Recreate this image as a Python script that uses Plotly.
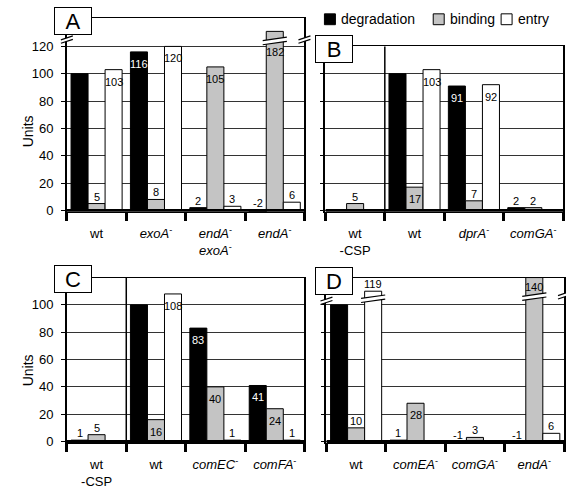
import plotly.graph_objects as go

# ---------------- data ----------------
SERIES = ["degradation", "binding", "entry"]

A_CATS = ["wt", "<i>exoA</i><sup>-</sup>", "<i>endA</i><sup>-</sup><br><i>exoA</i><sup>-</sup>", "<i>endA</i><sup>-</sup>"]
A_DEG = [100, 116, 2, -2]
A_BIND = [5, 8, 105, 182]
A_ENTRY = [103, 120, 3, 6]

B_CATS = ["wt<br>-CSP", "wt", "<i>dprA</i><sup>-</sup>", "<i>comGA</i><sup>-</sup>"]
B_DEG = [None, 100, 91, 2]
B_BIND = [5, 17, 7, 2]
B_ENTRY = [None, 103, 92, None]

C_CATS = ["wt<br>-CSP", "wt", "<i>comEC</i><sup>-</sup>", "<i>comFA</i><sup>-</sup>"]
C_DEG = [1, 100, 83, 41]
C_BIND = [5, 16, 40, 24]
C_ENTRY = [None, 108, 1, 1]

D_CATS = ["wt", "<i>comEA</i><sup>-</sup>", "<i>comGA</i><sup>-</sup>", "<i>endA</i><sup>-</sup>"]
D_DEG = [100, 1, -1, -1]
D_BIND = [10, 28, 3, 140]
D_ENTRY = [119, None, None, 6]

Y_TICKS_A = [0, 20, 40, 60, 80, 100, 120]
Y_TICKS = [0, 20, 40, 60, 80, 100]

# ---------------- style / geometry ----------------
W, H = 566, 489
COLORS = ["#000000", "#c4c4c4", "#ffffff"]
BARGAP = 0.14
BW = (1 - BARGAP) / 3
PPU = 166 / 120.0  # pixels per unit
NUM_FONT = "Liberation Sans Narrow, Arial Narrow, Liberation Sans, Arial"
TXT_FONT = "Liberation Sans, Arial"

def px(x):
    return x / W

def py(y):
    return 1 - y / H

panels = [
    dict(key="A", cats=A_CATS, vals=[A_DEG, A_BIND, A_ENTRY], x0=67, x1=305, zero=213, rmax=141,
         ticks=Y_TICKS_A, labels=True, sep=False),
    dict(key="B", cats=B_CATS, vals=[B_DEG, B_BIND, B_ENTRY], x0=326, x1=564, zero=213, rmax=120,
         ticks=Y_TICKS, labels=False, sep=True),
    dict(key="C", cats=C_CATS, vals=[C_DEG, C_BIND, C_ENTRY], x0=67, x1=305, zero=447, rmax=120,
         ticks=Y_TICKS, labels=True, sep=True),
    dict(key="D", cats=D_CATS, vals=[D_DEG, D_BIND, D_ENTRY], x0=327, x1=565, zero=447, rmax=120,
         ticks=Y_TICKS, labels=False, sep=False),
]
RMIN = -1

# broken bars: (panel, series index, category index) -> drawn height, break level, label level
BROKEN = {
    ("A", 1, 3): dict(show=131, brk=124, lab=116),
    ("D", 2, 0): dict(show=110, brk=104.5, lab=None),
    ("D", 1, 3): dict(show=120, brk=106, lab=113),
}
# axis breaks: panel -> list of (side, level)
AXIS_BREAKS = {"A": [(0, 125), (1, 125)], "D": [(0, 103), (1, 107)]}
LETTER_POS = {"A": (73.5, 21.5), "B": (335, 50), "C": (73.5, 282), "D": (335, 284)}

fig = go.Figure()
shapes = []
annotations = []


def brk_shapes(xref, yref, xc, yc, hw, gap, slant):
    a = (xc - hw, yc - gap / 2 - slant / 2)
    b = (xc + hw, yc - gap / 2 + slant / 2)
    c = (xc + hw, yc + gap / 2 + slant / 2)
    d = (xc - hw, yc + gap / 2 - slant / 2)
    out = [dict(type="path", xref=xref, yref=yref,
                path=f"M{a[0]},{a[1]} L{b[0]},{b[1]} L{c[0]},{c[1]} L{d[0]},{d[1]} Z",
                fillcolor="white", line=dict(width=0), layer="above")]
    out.append(dict(type="line", xref=xref, yref=yref, x0=a[0], y0=a[1], x1=b[0], y1=b[1],
                    line=dict(color="black", width=1.2), layer="above"))
    out.append(dict(type="line", xref=xref, yref=yref, x0=d[0], y0=d[1], x1=c[0], y1=c[1],
                    line=dict(color="black", width=1.2), layer="above"))
    return out


for pi, p in enumerate(panels):
    sfx = "" if pi == 0 else str(pi + 1)
    xa, ya = "x" + sfx, "y" + sfx
    top_px = p["zero"] - p["rmax"] * PPU
    bot_px = p["zero"] - RMIN * PPU
    p["dom_y"] = [py(bot_px), py(top_px)]
    p["dom_x"] = [px(p["x0"]), px(p["x1"])]

    def v2paper(v, p=p):
        d0, d1 = p["dom_y"]
        return d0 + (v - RMIN) / (p["rmax"] - RMIN) * (d1 - d0)

    for k, series in enumerate(p["vals"]):
        disp = []
        for i, v in enumerate(series):
            bk = BROKEN.get((p["key"], k, i))
            disp.append(bk["show"] if (bk and v is not None) else v)
        fig.add_trace(go.Bar(
            x=[0, 1, 2, 3], y=disp, name=SERIES[k], xaxis=xa, yaxis=ya,
            marker=dict(color=COLORS[k], line=dict(color="black", width=1)),
            hoverinfo="skip", showlegend=False))
        # value labels
        for i, v in enumerate(series):
            if v is None:
                continue
            if k == 0 and v == 100:
                continue
            xc = i + (k - 1) * BW
            color = "white" if k == 0 and v >= 15 else "black"
            bk = BROKEN.get((p["key"], k, i))
            if bk:
                if bk["lab"] is None:
                    y, anchor, shift = bk["show"], "bottom", -1
                else:
                    y, anchor, shift = bk["lab"], "middle", 0
            elif v >= 15:
                y, anchor, shift = v, "top", -4
            else:
                y, anchor, shift = max(v, 0), "bottom", -1
            annotations.append(dict(
                x=xc, y=y, xref=xa, yref=ya, text=str(v), showarrow=False,
                yanchor=anchor, xanchor="center", yshift=shift,
                font=dict(family=NUM_FONT, size=11, color=color)))
            if bk:
                shapes.extend(brk_shapes(xa, ya, xc, bk["brk"], BW / 2 + 0.06, 3.0, 2.5))

    fig.update_layout(**{
        ("xaxis" + sfx): dict(
            domain=p["dom_x"], anchor=ya, range=[-0.5, 3.5],
            tickmode="array", tickvals=[0, 1, 2, 3], ticktext=p["cats"],
            ticks="", ticklabelstandoff=10,
            tickfont=dict(family=TXT_FONT, size=13, color="black"),
            showline=True, linecolor="black", linewidth=1, mirror=True,
            showgrid=False, zeroline=False,
            minor=dict(tickmode="array", tickvals=[-0.5, 0.5, 1.5, 2.5, 3.5],
                       ticks="outside", ticklen=8, tickwidth=3, tickcolor="black",
                       showgrid=False)),
        ("yaxis" + sfx): dict(
            domain=p["dom_y"], anchor=xa, range=[RMIN, p["rmax"]],
            tickmode="array", tickvals=p["ticks"], showticklabels=p["labels"],
            ticks="outside", ticklen=4, tickwidth=1, tickcolor="black",
            ticklabelstandoff=5,
            tickfont=dict(family=NUM_FONT, size=13, color="black"),
            showgrid=True, gridcolor="#333333", gridwidth=1,
            showline=True, linecolor="black", linewidth=1.5, mirror=True,
            zeroline=False),
    })

    # thick baseline
    shapes.append(dict(type="line", xref=xa, yref=ya, x0=-0.5, x1=3.5, y0=0, y1=0,
                       line=dict(color="black", width=3), layer="above"))
    # separator after first group
    if p["sep"]:
        shapes.append(dict(type="line", xref=xa, yref=ya + " domain", x0=0.5, x1=0.5, y0=0, y1=1,
                           line=dict(color="black", width=1.5), layer="above"))
    # axis breaks
    for side, lvl in AXIS_BREAKS.get(p["key"], []):
        xc = p["dom_x"][side]
        shapes.extend(brk_shapes("paper", "paper", xc, v2paper(lvl), 6 / W, 3.5 / H, 4 / H))

# panel-letter boxes
for key, (cx, cy) in LETTER_POS.items():
    annotations.append(dict(
        x=px(cx), y=py(cy), xref="paper", yref="paper", text=key, showarrow=False,
        xanchor="center", yanchor="middle", width=34, height=24,
        bordercolor="black", borderwidth=1, borderpad=1, bgcolor="white",
        font=dict(family=TXT_FONT, size=22, color="black")))

# y titles
for cy in (133, 375):
    annotations.append(dict(x=px(28), y=py(cy), xref="paper", yref="paper", text="Units",
                            showarrow=False, textangle=-90, xanchor="center", yanchor="middle",
                            font=dict(family=TXT_FONT, size=14, color="black")))

# legend (manual)
leg = [(325, 340), (434, 449), (502, 517)]
for k, (sx, tx) in enumerate(leg):
    shapes.append(dict(type="rect", xref="paper", yref="paper",
                       x0=px(sx), x1=px(sx + 11), y0=py(25), y1=py(14),
                       fillcolor=COLORS[k], line=dict(color="black", width=1)))
    annotations.append(dict(x=px(tx), y=py(19), xref="paper", yref="paper", text=SERIES[k],
                            showarrow=False, xanchor="left", yanchor="middle",
                            font=dict(family=TXT_FONT, size=14, color="black")))

fig.update_layout(
    width=W, height=H, margin=dict(l=0, r=0, t=0, b=0),
    paper_bgcolor="white", plot_bgcolor="white",
    barmode="group", bargap=BARGAP, bargroupgap=0, showlegend=False,
    shapes=shapes, annotations=annotations)

fig.write_html("out.html", config={"displayModeBar": False},
               post_script="document.body.style.margin='0';document.body.style.padding='0';")
